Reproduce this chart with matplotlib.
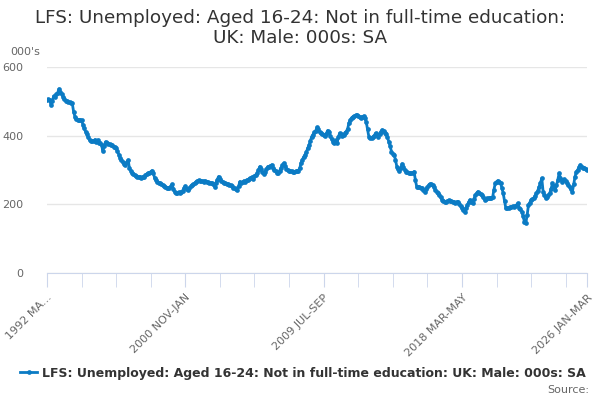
import matplotlib
matplotlib.use("Agg")
import matplotlib.pyplot as plt
import numpy as np
from matplotlib.lines import Line2D

title = "LFS: Unemployed: Aged 16-24: Not in full-time education:\nUK: Male: 000s: SA"
series_name = "LFS: Unemployed: Aged 16-24: Not in full-time education: UK: Male: 000s: SA"
y_unit = "000's"

# Rolling-quarter values (thousands), 1992 MAR-MAY ... 2026 JAN-MAR
values = [
    505, 506, 504, 490, 500, 515, 512, 520, 525, 536, 528, 520,
    514, 508, 502, 500, 498, 497, 496, 494, 470, 455, 448, 447,
    446, 445, 445, 432, 421, 412, 405, 395, 387, 385, 384, 384,
    388, 382, 387, 378, 380, 372, 356, 370, 382, 378, 377, 375,
    374, 372, 368, 366, 363, 355, 345, 335, 329, 322, 318, 315,
    322, 329, 305, 298, 292, 287, 284, 282, 280, 279, 280, 278,
    281, 280, 285, 288, 290, 292, 295, 298, 290, 276, 270, 266,
    263, 261, 258, 256, 253, 251, 249, 248, 247, 252, 258, 245,
    236, 232, 233, 235, 234, 237, 240, 247, 253, 246, 242, 248,
    252, 256, 258, 261, 265, 268, 270, 269, 267, 268, 266, 268,
    266, 264, 262, 263, 261, 258, 251, 262, 272, 281, 275, 268,
    265, 263, 262, 260, 258, 256, 256, 252, 249, 247, 244, 242,
    252, 266, 262, 264, 268, 266, 271, 270, 274, 276, 279, 275,
    282, 286, 290, 300, 310, 302, 294, 288, 295, 303, 310, 308,
    312, 315, 306, 300, 296, 292, 290, 298, 306, 314, 320, 312,
    304, 300, 298, 296, 297, 295, 294, 296, 297, 298, 305, 320,
    330, 338, 344, 352, 363, 372, 385, 397, 403, 410, 414, 424,
    418, 410, 407, 404, 402, 400, 406, 415, 412, 398, 390, 383,
    380, 386, 378, 395, 407, 404, 400, 402, 408, 412, 420, 436,
    446, 452, 455, 457, 459, 460, 457, 454, 452, 455, 457, 450,
    441, 418, 397, 394, 392, 396, 400, 407, 402, 397, 405, 412,
    417, 414, 409, 404, 395, 383, 370, 353, 348, 344, 330, 310,
    302, 298, 306, 318, 310, 300, 295, 294, 292, 290, 290, 292,
    295, 270, 251, 250, 251, 248, 247, 242, 237, 244, 250, 256,
    259, 258, 256, 250, 243, 237, 232, 227, 220, 214, 210, 208,
    207, 209, 212, 211, 209, 207, 206, 205, 207, 208, 202, 195,
    188, 183, 179, 188, 198, 206, 213, 208, 203, 215, 227, 232,
    237, 233, 230, 227, 220, 213, 215, 217, 218, 218, 219, 220,
    242, 261, 266, 269, 265, 261, 248, 232, 210, 188, 189, 190,
    191, 192, 194, 193, 195, 198, 203, 188, 185, 179, 165, 148,
    145, 169, 198, 205, 213, 215, 218, 225, 232, 240, 251, 262,
    276, 237, 228, 218, 222, 227, 232, 245, 261, 252, 242, 255,
    270, 290, 278, 266, 270, 273, 268, 262, 256, 250, 244, 237,
    258, 281, 295, 300, 308, 315, 310, 305, 307, 304, 300,
]

tick_labels = ["1992 MA...", "2000 NOV-JAN", "2009 JUL-SEP", "2018 MAR-MAY", "2026 JAN-MAR"]
tick_label_idx = [0, 104, 208, 312, 406]
y_ticks = [0, 200, 400, 600]

line_color = "#0b7bc4"
text_gray = "#666666"

fig = plt.figure(figsize=(6, 4), dpi=100)
ax = fig.add_axes([47 / 600, 1 - 273 / 400, 540 / 600, (273 - 67) / 400])

x = np.arange(len(values))
ax.plot(x, values, color=line_color, lw=2, marker="o", markersize=3.4,
        markeredgewidth=0, zorder=3)

ax.set_xlim(0, len(values) - 1)
ax.set_ylim(0, 600)

# y axis
ax.set_yticks(y_ticks)
ax.set_yticklabels([str(v) for v in y_ticks], color=text_gray, fontsize=8)
ax.tick_params(axis="y", length=0, pad=17)
for lab in ax.get_yticklabels():
    lab.set_horizontalalignment("right")
ax.grid(axis="y", color="#e6e6e6", lw=1)
ax.set_axisbelow(True)

# x axis
minor_pos = list(range(0, len(values) - 1, 26)) + [len(values) - 1]
ax.set_xticks(minor_pos, minor=True)
ax.set_xticks(tick_label_idx)
ax.set_xticklabels(tick_labels, rotation=45, ha="right", rotation_mode="anchor",
                   color=text_gray, fontsize=8)
ax.tick_params(axis="x", which="both", length=10, color="#ccd6eb", direction="out")
ax.tick_params(axis="x", which="major", pad=4)

for s in ["top", "right", "left"]:
    ax.spines[s].set_visible(False)
ax.spines["bottom"].set_color("#ccd6eb")

fig.text(0.5, 1 - 9 / 400, title, ha="center", va="top", fontsize=13.2,
         color="#333333", linespacing=1.15)
fig.text(10 / 600, 1 - 52 / 400, y_unit, ha="left", va="center", fontsize=8, color=text_gray)

h = Line2D([0], [0], color=line_color, lw=2, marker="o", markersize=3.4, markeredgewidth=0)
fig.legend([h], [series_name], loc="center", bbox_to_anchor=(0.505, 1 - 373 / 400),
           frameon=False, handlelength=1.4, handletextpad=0.4,
           prop={"weight": "bold", "size": 9}, labelcolor="#333333")
fig.text(589 / 600, 1 - 390 / 400, "Source:", ha="right", va="center", fontsize=8, color=text_gray)

fig.savefig("out.png", dpi=100)
